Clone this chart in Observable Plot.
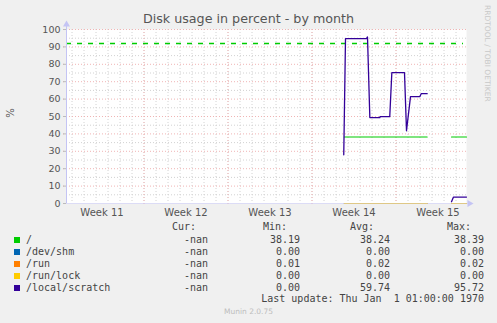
<!DOCTYPE html>
<html><head><meta charset="utf-8">
<script src="https://cdn.jsdelivr.net/npm/d3@7"></script>
<script src="https://cdn.jsdelivr.net/npm/@observablehq/plot@0.6"></script>
<style>
html,body{margin:0;padding:0;background:#f0f0f0;}
#wrap{position:relative;width:497px;height:323px;background:#f0f0f0;overflow:hidden;font-family:"DejaVu Sans",sans-serif;}
#chart{position:absolute;left:0;top:0;}
.t{position:absolute;white-space:pre;line-height:12px;}
.mono{font-family:"DejaVu Sans Mono",monospace;font-size:10px;color:#444;}
.sw{position:absolute;width:6px;height:6px;}
</style></head>
<body><div id="wrap"><div id="chart"></div></div>
<script>
// ---- data ----
const title = "Disk usage in percent - by month";
const yLabel = "%";
const sideText = "RRDTOOL / TOBI OETIKER";
const footer = "Munin 2.0.75";
const lastUpdate = "Last update: Thu Jan  1 01:00:00 1970";
const weekLabels = ["Week 11", "Week 12", "Week 13", "Week 14", "Week 15"];
const weekStarts = ["2024-03-11", "2024-03-18", "2024-03-25", "2024-04-01", "2024-04-08"];
const xDomain = ["2024-03-11T13:00Z", "2024-04-13T21:00Z"];
const yTicks = [0, 10, 20, 30, 40, 50, 60, 70, 80, 90, 100];
const yMinorTicks = [5, 15, 25, 35, 45, 55, 65, 75, 85, 95];
const warning = 92;

const seriesNames = ["/", "/dev/shm", "/run", "/run/lock", "/local/scratch"];
const seriesColors = ["#00cc00", "#0066b3", "#ff8000", "#ffcc00", "#330099"];
const curValues = ["-nan", "-nan", "-nan", "-nan", "-nan"];
const minValues = ["38.19", "0.00", "0.01", "0.00", "0.00"];
const avgValues = ["38.24", "0.00", "0.02", "0.00", "59.74"];
const maxValues = ["38.39", "0.00", "0.02", "0.00", "95.72"];

// sparse samples (gap = null)
const fsTimes = ["2024-04-03T16:40Z", "2024-04-10T14:20Z", "2024-04-11T12:00Z", "2024-04-12T15:00Z", "2024-04-13T21:00Z"];
const rootValues = [38.2, 38.2, null, 38.2, 38.2];
const shmValues = [0, 0, null, 0, 0];
const runValues = [0.02, 0.02, null, 0.02, 0.02];
const lockValues = [0, 0, null, 0, 0];

const scratchTimes = [
  "2024-04-03T15:30Z", "2024-04-03T19:00Z", "2024-04-05T13:00Z", "2024-04-05T15:00Z",
  "2024-04-05T19:40Z", "2024-04-06T15:40Z", "2024-04-06T16:00Z", "2024-04-07T11:30Z",
  "2024-04-07T15:40Z", "2024-04-08T17:00Z", "2024-04-08T21:00Z", "2024-04-09T05:00Z",
  "2024-04-09T23:40Z", "2024-04-10T02:20Z", "2024-04-10T14:20Z", "2024-04-11T12:00Z",
  "2024-04-12T15:00Z", "2024-04-12T19:00Z", "2024-04-13T21:00Z"
];
const scratchValues = [
  28, 94.8, 94.8, 95.72,
  49.4, 49.4, 49.9, 49.9,
  75.2, 75.2, 41.8, 61.4,
  61.4, 63.1, 63.1, null,
  1.0, 3.7, 3.7
];

// ---- build ----
const D = s => new Date(s);
const toRows = (times, vals) => times.map((t, i) => ({t: D(t), v: vals[i] == null ? NaN : vals[i]}));
const seriesRows = [
  toRows(fsTimes, rootValues),
  toRows(fsTimes, shmValues),
  toRows(fsTimes, runValues),
  toRows(fsTimes, lockValues),
  toRows(scratchTimes, scratchValues)
];
const x0 = D(xDomain[0]), x1 = D(xDomain[1]);
const days = d3.utcDay.range(x0, x1);
const weeks = weekStarts.map(D);
const weekCenters = weekStarts.map((w, i) => ({t: d3.utcHour.offset(D(w), 84), label: weekLabels[i]}));

const axisCol = "#c4c4f4";
const minorCol = "#d2d2d2";
const majorCol = "#f0b4b4";
const marks = [
  Plot.frame({fill: "white", stroke: "none"}),
  Plot.ruleX(days, {stroke: minorCol, strokeDasharray: "1,2"}),
  Plot.ruleY(yMinorTicks, {stroke: minorCol, strokeDasharray: "1,2"}),
  Plot.ruleX(weeks.filter(d => d > x0 && d < x1), {stroke: majorCol, strokeDasharray: "1,2", insetBottom: -3}),
  Plot.ruleY(yTicks.filter(d => d > 0), {stroke: majorCol, strokeDasharray: "1,2", insetLeft: -3}),
  Plot.ruleY([warning], {stroke: "#00cc00", strokeDasharray: "5,6", strokeWidth: 1.5, insetRight: 3})
];
seriesRows.forEach((rows, i) => {
  marks.push(Plot.line(rows, {x: "t", y: "v", stroke: seriesColors[i], strokeWidth: i === 4 ? 1.3 : 1.1}));
});
marks.push(
  Plot.ruleY([0], {stroke: axisCol, strokeOpacity: 0.55, insetRight: -2}),
  Plot.ruleX([x0], {stroke: axisCol, insetTop: -5}),
  Plot.dot([{t: x0, v: yTicks[yTicks.length - 1]}], {x: "t", y: "v", symbol: "triangle", r: 2.6, fill: axisCol, stroke: "none", dy: -5}),
  Plot.dot([{t: x1, v: 0}], {x: "t", y: "v", symbol: "triangle", r: 2.6, fill: axisCol, stroke: "none", rotate: 90, dx: 3}),
  Plot.axisY({ticks: yTicks, tickSize: 3, tickPadding: 3, label: null, stroke: "#bbb"}),
  Plot.text(weekCenters, {x: "t", text: "label", frameAnchor: "bottom", lineAnchor: "top", dy: 5, fill: "#555", fontSize: 10})
);

const chart = Plot.plot({
  width: 497, height: 220,
  marginLeft: 66, marginRight: 31, marginTop: 29, marginBottom: 17,
  x: {type: "utc", domain: [x0, x1], axis: null},
  y: {domain: [0, 100], axis: null},
  style: {background: "transparent", fontFamily: "DejaVu Sans", fontSize: "9.5px", color: "#555", overflow: "visible"},
  marks
});
document.getElementById("chart").appendChild(chart);

// ---- texts & legend ----
const wrap = document.getElementById("wrap");
function addText(txt, css, cls) {
  const el = document.createElement("div");
  el.className = "t " + (cls || "");
  el.textContent = txt;
  Object.assign(el.style, css);
  wrap.appendChild(el);
  return el;
}
addText(title, {left: "0px", width: "497px", textAlign: "center", top: "12px", fontSize: "12.7px", color: "#555", lineHeight: "14px"});
addText(yLabel, {left: "6px", top: "107px", fontSize: "10px", color: "#555", transform: "rotate(-90deg)"});
addText(sideText, {left: "482px", top: "5px", fontSize: "7.5px", color: "#c8c8c8", writingMode: "vertical-rl", lineHeight: "10px"});
addText(footer, {left: "0px", width: "497px", textAlign: "center", top: "307px", fontSize: "7.5px", color: "#bdbdbd", lineHeight: "10px"});

const rowY = [240, 252, 264, 276, 288];
const headY = 227;
function right(txt, r, yc) { return addText(txt, {right: (497 - r) + "px", top: (yc - 6) + "px"}, "mono"); }
function left(txt, l, yc) { return addText(txt, {left: l + "px", top: (yc - 6) + "px"}, "mono"); }
left("Cur:", 172, headY);
left("Min:", 263, headY);
left("Avg:", 350, headY);
left("Max:", 447, headY);
seriesNames.forEach((n, i) => {
  const sw = document.createElement("div");
  sw.className = "sw";
  Object.assign(sw.style, {left: "14px", top: (rowY[i] - 3) + "px", background: seriesColors[i]});
  wrap.appendChild(sw);
  left(n, 26, rowY[i]);
  right(curValues[i], 208, rowY[i]);
  right(minValues[i], 300, rowY[i]);
  right(avgValues[i], 390, rowY[i]);
  right(maxValues[i], 484, rowY[i]);
});
right(lastUpdate, 484, 299);
</script>
</body></html>
